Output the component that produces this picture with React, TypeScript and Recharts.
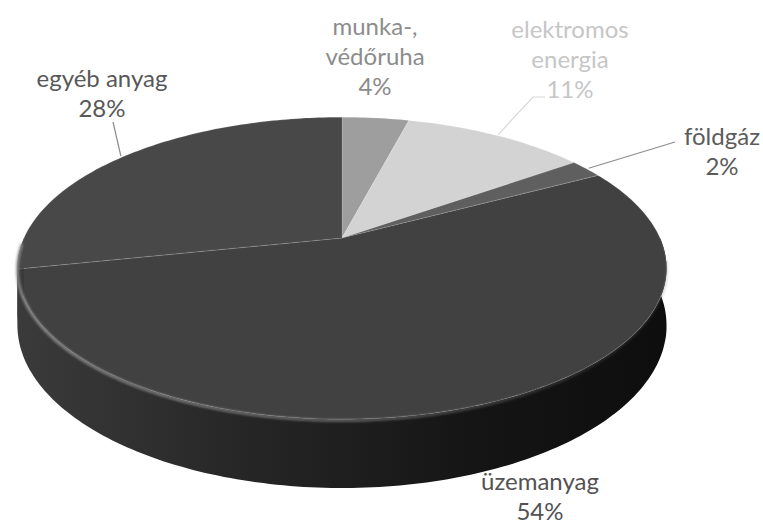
import React from "react";
import { Pie, PieChart } from "recharts";

const CATEGORIES = ["munka-,\nvédőruha", "elektromos\nenergia", "földgáz", "üzemanyag", "egyéb anyag"];
const SHARES = [4, 11, 2, 54, 28];

const TOP_COLORS = ["#9e9e9e", "#d3d3d3", "#5f5f5f", "#414141", "#484848"];
const LABEL_COLORS = ["#8c8c8c", "#c6c6c6", "#5c5c5c", "#525252", "#585858"];

// label block centres and leader end points (layout only)
const LABEL_LAYOUT = [
  { x: 375, y: 25, leader: null },
  { x: 570, y: 28, leader: [[533, 97], [545, 97]] },
  { x: 722, y: 135, leader: [[675, 142]] },
  { x: 540, y: 480, leader: null },
  { x: 102, y: 77, leader: [[113, 122]] },
];

const TILT = 0.456; // vertical squash of the pie face
const PERSP = 0.2; // perspective strength
const DEPTH = 55; // thickness of the disc

const data = CATEGORIES.map((name, i) => ({ name, value: SHARES[i] }));

function project(cx: number, cy: number, rx: number, deg: number, r: number, h: number) {
  const a = (deg * Math.PI) / 180;
  const X = r * Math.cos(a);
  const Z = r * Math.sin(a);
  const s = 1 / (1 + PERSP * Z);
  return [cx + rx * X * s, cy - rx * TILT * Z * s + h * s];
}

function arcPoints(cx: number, cy: number, rx: number, from: number, to: number, h: number) {
  const n = Math.max(2, Math.ceil(Math.abs(to - from)));
  const pts: number[][] = [];
  for (let i = 0; i <= n; i++) {
    pts.push(project(cx, cy, rx, from + ((to - from) * i) / n, 1, h));
  }
  return pts;
}

const toPath = (pts: number[][]) =>
  pts.map((p, i) => `${i ? "L" : "M"}${p[0].toFixed(1)},${p[1].toFixed(1)}`).join(" ");

function renderSlice(props: any) {
  const { cx, cy, outerRadius, startAngle, endAngle, midAngle, index, value, name } = props;
  const rx = outerRadius;
  const hi = Math.min(startAngle, 0);
  const lo = Math.max(endAngle, -180);
  let side = null;
  if (hi > lo) {
    const top = arcPoints(cx, cy, rx, hi, lo, 0);
    const bottom = arcPoints(cx, cy, rx, lo, hi, DEPTH);
    side = <path d={toPath([...top, ...bottom]) + " Z"} fill="url(#sideGrad)" />;
  }
  const face = toPath([[cx, cy], ...arcPoints(cx, cy, rx, startAngle, endAngle, 0)]) + " Z";
  const lay = LABEL_LAYOUT[index];
  const lines = String(name).split("\n").concat(`${value}%`);
  const start = project(cx, cy, rx, midAngle, 1.01, 0);
  const last = index === data.length - 1;
  return (
    <g key={`slice-${index}`}>
      {index === 0 && (
        <defs>
          <linearGradient id="sideGrad" x1={cx - rx} x2={cx + rx} y1={0} y2={0} gradientUnits="userSpaceOnUse">
            <stop offset="0" stopColor="#3a3a3a" />
            <stop offset="0.35" stopColor="#262626" />
            <stop offset="0.7" stopColor="#151515" />
            <stop offset="1" stopColor="#0e0e0e" />
          </linearGradient>
          <linearGradient id="rimGrad" x1={cx - rx} x2={cx + rx} y1={0} y2={0} gradientUnits="userSpaceOnUse">
            <stop offset="0" stopColor="#8a8a8a" stopOpacity="0.9" />
            <stop offset="0.5" stopColor="#777777" stopOpacity="0.7" />
            <stop offset="1" stopColor="#555555" stopOpacity="0.2" />
          </linearGradient>
          <filter id="soft" x="-5%" y="-5%" width="110%" height="110%">
            <feGaussianBlur stdDeviation="1.2" />
          </filter>
        </defs>
      )}
      {side}
      <path d={face} fill={TOP_COLORS[index]} stroke="rgba(255,255,255,0.12)" strokeWidth={1.2} />
      {last && (
        <path
          d={toPath(arcPoints(cx, cy, rx, -178, -8, 1))}
          fill="none"
          stroke="url(#rimGrad)"
          strokeWidth={3}
          filter="url(#soft)"
        />
      )}
      {lay.leader && (
        <polyline
          points={[start, ...lay.leader].map((p) => p.join(",")).join(" ")}
          fill="none"
          stroke={LABEL_COLORS[index]}
          strokeOpacity={0.7}
          strokeWidth={1.2}
        />
      )}
      {lines.map((t, i) => (
        <text
          key={i}
          x={lay.x}
          y={lay.y + i * 30}
          textAnchor="middle"
          dominantBaseline="central"
          fontFamily="Lato, 'Liberation Sans', sans-serif"
          fontSize={24}
          fill={LABEL_COLORS[index]}
        >
          {t}
        </text>
      ))}
    </g>
  );
}

export default function App() {
  return (
    <div style={{ position: "absolute", left: 0, top: 0, background: "#fff" }}>
      <PieChart width={763} height={527}>
        <Pie
          data={data}
          dataKey="value"
          nameKey="name"
          cx={337}
          cy={233}
          outerRadius={318}
          startAngle={90}
          endAngle={-270}
          fill="none"
          stroke="none"
          label={renderSlice}
          labelLine={false}
          isAnimationActive={false}
        />
      </PieChart>
    </div>
  );
}
